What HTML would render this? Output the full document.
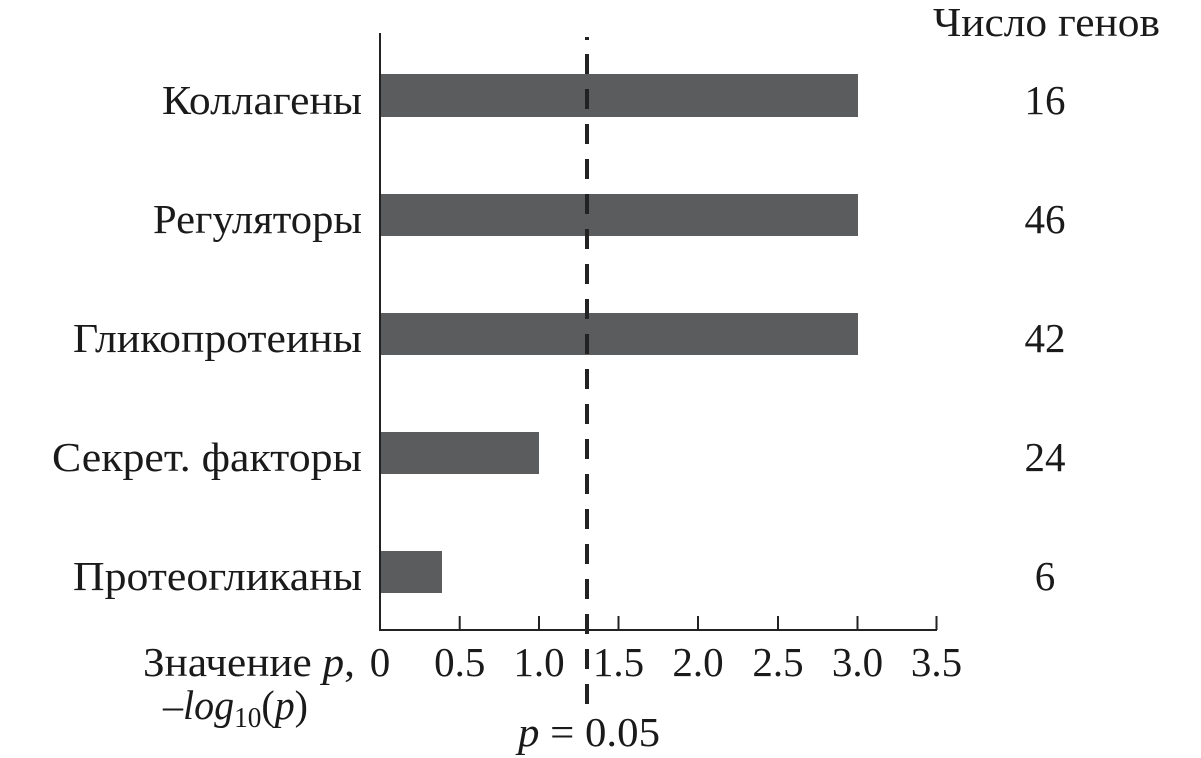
<!DOCTYPE html>
<html><head><meta charset="utf-8"><style>
html,body{margin:0;padding:0;background:#fff;}
svg{display:block;}
text{font-family:"Liberation Serif",serif;fill:#1a1a1a;}
</style></head><body>
<svg width="1201" height="758" viewBox="0 0 1201 758">
<line x1="380" y1="33" x2="380" y2="631" stroke="#222" stroke-width="2"/>
<line x1="379" y1="630" x2="937" y2="630" stroke="#222" stroke-width="2"/>
<g stroke="#222" stroke-width="2">
<line x1="459.7" y1="616" x2="459.7" y2="630"/>
<line x1="539" y1="616" x2="539" y2="630"/>
<line x1="618.5" y1="616" x2="618.5" y2="630"/>
<line x1="698" y1="616" x2="698" y2="630"/>
<line x1="778" y1="616" x2="778" y2="630"/>
<line x1="857.5" y1="616" x2="857.5" y2="630"/>
<line x1="936.5" y1="616" x2="936.5" y2="630"/>
</g>
<g fill="#5b5c5e">
<rect x="381" y="74" width="477" height="43"/>
<rect x="381" y="194" width="477" height="42"/>
<rect x="381" y="313" width="477" height="42"/>
<rect x="381" y="432" width="158" height="42"/>
<rect x="381" y="551" width="61" height="42"/>
</g>
<line x1="587" y1="37" x2="587" y2="40" stroke="#222" stroke-width="4"/>
<line x1="587" y1="54" x2="587" y2="706" stroke="#222" stroke-width="4" stroke-dasharray="20 15"/>
<g font-size="41">
<text x="362" y="114" text-anchor="end" textLength="200" lengthAdjust="spacingAndGlyphs">Коллагены</text>
<text x="362" y="233" text-anchor="end" textLength="209" lengthAdjust="spacingAndGlyphs">Регуляторы</text>
<text x="362" y="352" text-anchor="end" textLength="289" lengthAdjust="spacingAndGlyphs">Гликопротеины</text>
<text x="362" y="471" text-anchor="end" textLength="310" lengthAdjust="spacingAndGlyphs">Секрет. факторы</text>
<text x="362" y="590" text-anchor="end" textLength="289" lengthAdjust="spacingAndGlyphs">Протеогликаны</text>
<text x="933" y="36" textLength="227" lengthAdjust="spacingAndGlyphs">Число генов</text>
<text x="1045" y="114" text-anchor="middle">16</text>
<text x="1045" y="233" text-anchor="middle">46</text>
<text x="1045" y="352" text-anchor="middle">42</text>
<text x="1045" y="471" text-anchor="middle">24</text>
<text x="1045" y="590" text-anchor="middle">6</text>
<text x="143" y="676" textLength="212" lengthAdjust="spacingAndGlyphs">Значение <tspan font-style="italic">p</tspan>,</text>
<text x="380" y="676" text-anchor="middle">0</text>
<text x="459.7" y="676" text-anchor="middle">0.5</text>
<text x="539" y="676" text-anchor="middle">1.0</text>
<text x="618.5" y="676" text-anchor="middle">1.5</text>
<text x="698" y="676" text-anchor="middle">2.0</text>
<text x="778" y="676" text-anchor="middle">2.5</text>
<text x="857.5" y="676" text-anchor="middle">3.0</text>
<text x="936.5" y="676" text-anchor="middle">3.5</text>
<text x="163" y="719" textLength="145" lengthAdjust="spacingAndGlyphs">–<tspan font-style="italic">log</tspan><tspan font-size="28" dy="8">10</tspan><tspan dy="-8">(</tspan><tspan font-style="italic">p</tspan>)</text>
<text x="518" y="746" textLength="142" lengthAdjust="spacingAndGlyphs"><tspan font-style="italic">p</tspan> = 0.05</text>
</g>
</svg>
</body></html>
